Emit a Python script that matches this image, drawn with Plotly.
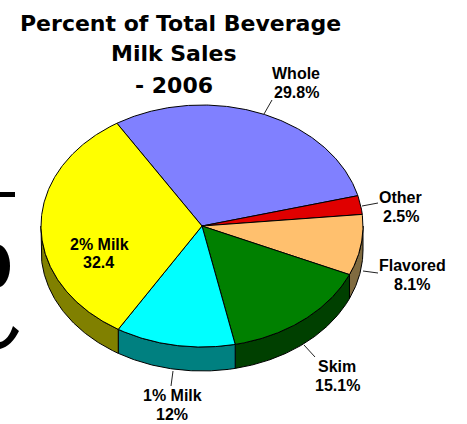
import math
import plotly.graph_objects as go

categories = ["Whole", "Other", "Flavored", "Skim", "1% Milk", "2% Milk"]
values = [29.8, 2.5, 8.1, 15.1, 12.0, 32.4]
value_labels = ["29.8%", "2.5%", "8.1%", "15.1%", "12%", "32.4"]
top_colors = ["#8080FF", "#E00000", "#FFC06E", "#008000", "#00FFFF", "#FFFF00"]
side_colors = ["#404080", "#700000", "#806B40", "#004000", "#008080", "#808000"]
title_lines = ["Percent of Total Beverage", "Milk Sales", "- 2006"]

W, H = 467, 424
CX, CY, A, B, D = 202, 226, 161, 121, 24
START = 328.1
FONT = "Liberation Sans"


def pt(deg, dy=0):
    r = math.radians(deg)
    return CX + A * math.sin(r), CY - B * math.cos(r) + dy


total = sum(values)
bounds = [START]
for v in values:
    bounds.append(bounds[-1] + v / total * 360)

fig = go.Figure()
line = dict(color="black", width=1)


def arc(a0, a1, dy=0):
    n = max(2, int(abs(a1 - a0) * 2))
    return [pt(a0 + (a1 - a0) * i / n, dy) for i in range(n + 1)]


def poly(points, color):
    xs = [p[0] for p in points] + [points[0][0]]
    ys = [p[1] for p in points] + [points[0][1]]
    fig.add_trace(go.Scatter(x=xs, y=ys, mode="lines", fill="toself", fillcolor=color,
                             line=line, hoverinfo="skip", showlegend=False))


# side walls: only the part of each slice facing the viewer (90..270 deg)
for i in range(len(values)):
    a0, a1 = bounds[i], bounds[i + 1]
    for shift in (0, 360):
        s0, s1 = max(a0 - shift, 90), min(a1 - shift, 270)
        if s1 > s0:
            poly(arc(s0, s1) + arc(s1, s0, D), side_colors[i])

# top faces
for i in range(len(values)):
    poly([(CX, CY)] + arc(bounds[i], bounds[i + 1]), top_colors[i])

# leader lines, from the rim outward (Whole, Other, Flavored, Skim, 1% Milk)
leaders = [((264, 114), (272, 100)), ((362, 206), (378, 203)),
           ((363, 271), (378, 273)), ((304, 345), (315, 357)), ((173, 371), (171, 386))]
for (x0, y0), (x1, y1) in leaders:
    fig.add_trace(go.Scatter(x=[x0, x1], y=[y0, y1], mode="lines",
                             line=dict(color="#222222", width=1), hoverinfo="skip", showlegend=False))

# label centres: name line and value line of each slice
name_xy = [(296, 73), (400, 197), (412, 265), (337, 366), (172, 395), (99, 244)]
value_xy = [(296, 92), (401, 216), (412, 284), (337, 385), (172, 414), (98, 262)]
for i in range(len(categories)):
    for t, (x, y) in ((categories[i], name_xy[i]), (value_labels[i], value_xy[i])):
        fig.add_annotation(x=x, y=y, text=f"<b>{t}</b>", showarrow=False,
                           font=dict(family=FONT, size=16, color="black"), align="center")

title_xy = [(180, 23), (174, 53), (174, 85)]
for t, (x, y) in zip(title_lines, title_xy):
    fig.add_annotation(x=x, y=y, text=f"<b>{t}</b>", showarrow=False,
                       font=dict(family="DejaVu Sans", size=22, color="black"), align="center")

# clipped fragments of a large black glyph at the left edge of the picture
shapes = [
    dict(type="rect", x0=0, x1=15, y0=192, y1=197, fillcolor="black", line_width=0),
    dict(type="path", path="M 0 245 C 6 247 10 256 10 266 C 10 276 6 285 0 287 Z",
         fillcolor="black", line_width=0),
    dict(type="path", path="M 13 326 L 19 331 C 14 341 8 347 0 349 L 0 342 C 6 341 10 335 13 326 Z",
         fillcolor="black", line_width=0),
]

fig.update_layout(
    width=W, height=H, margin=dict(l=0, r=0, t=0, b=0),
    paper_bgcolor="white", plot_bgcolor="white", showlegend=False, shapes=shapes,
    xaxis=dict(range=[0, W], visible=False, fixedrange=True),
    yaxis=dict(range=[H, 0], visible=False, fixedrange=True),
)
fig.write_html("out.html", config={"displayModeBar": False},
               post_script="document.body.style.margin='0';document.body.style.overflow='hidden';")
